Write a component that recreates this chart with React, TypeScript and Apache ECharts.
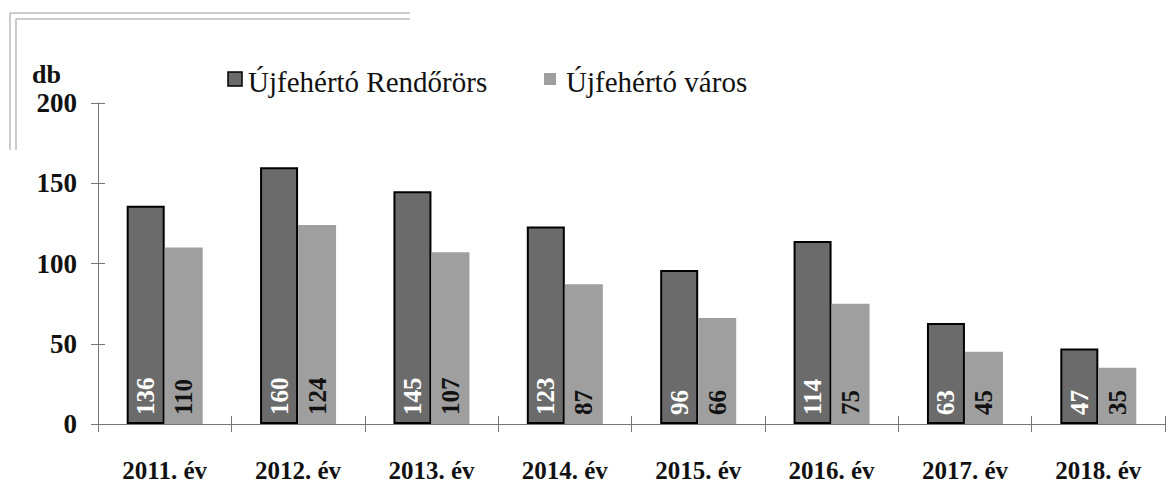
import React, { useEffect, useRef } from "react";
import * as echarts from "echarts";

const categories = ["2011. év", "2012. év", "2013. év", "2014. év", "2015. év", "2016. év", "2017. év", "2018. év"];
const seriesNames = ["Újfehértó Rendőrörs", "Újfehértó város"];
const rendororsValues = [136, 160, 145, 123, 96, 114, 63, 47];
const varosValues = [110, 124, 107, 87, 66, 75, 45, 35];
const yTicks = { min: 0, max: 200, interval: 50 };

const SERIF = "Liberation Serif";
const SERIF_REGULAR = "Tinos, 'Times New Roman', Times, 'DejaVu Serif', serif";
const DARK = "#6b6b6b";
const LIGHT = "#9f9f9f";

export default function App() {
  const ref = useRef<HTMLDivElement>(null);
  useEffect(() => {
    if (!ref.current) return;
    const chart = echarts.init(ref.current, undefined, { renderer: "svg" });
    const axisColor = "#777";
    const xBase = {
      type: "category" as const,
      data: categories,
      boundaryGap: true,
    };
    const yBase = { type: "value" as const, min: yTicks.min, max: yTicks.max, interval: yTicks.interval };
    const barLabel = {
      show: true,
      position: "insideBottom",
      rotate: 90,
      align: "left",
      verticalAlign: "middle",
      distance: 9,
      fontFamily: SERIF,
      fontWeight: "bold",
      fontSize: 25,
    };
    const legendText = (text: string, x: number) => ({
      type: "text",
      x,
      y: 82,
      style: {
        text,
        fontFamily: SERIF_REGULAR,
        fontSize: 29,
        fill: "#111",
        verticalAlign: "middle",
      },
    });
    chart.setOption({
      animation: false,
      backgroundColor: "#fff",
      textStyle: { fontFamily: SERIF },
      grid: { left: 98, right: 6, top: 103, bottom: 48, containLabel: false },
      xAxis: [
        {
          ...xBase,
          axisLine: { lineStyle: { color: axisColor, width: 1 } },
          axisTick: { show: true, length: 8, lineStyle: { color: axisColor } },
          axisLabel: {
            margin: 34,
            fontFamily: SERIF,
            fontWeight: "bold",
            fontSize: 25,
            color: "#111",
          },
        },
        {
          ...xBase,
          position: "bottom",
          axisLine: { show: false },
          axisTick: { show: true, inside: true, length: 8, lineStyle: { color: axisColor } },
          axisLabel: { show: false },
        },
      ],
      yAxis: [
        {
          ...yBase,
          axisLine: { show: true, lineStyle: { color: axisColor, width: 1 } },
          axisTick: { show: true, length: 7, lineStyle: { color: axisColor } },
          splitLine: { show: false },
          axisLabel: {
            margin: 21,
            fontFamily: SERIF,
            fontWeight: "bold",
            fontSize: 27,
            color: "#111",
          },
        },
        {
          ...yBase,
          position: "left",
          axisLine: { show: false },
          axisTick: { show: true, inside: true, length: 7, lineStyle: { color: axisColor } },
          splitLine: { show: false },
          axisLabel: { show: false },
        },
      ],
      graphic: [
        { type: "line", shape: { x1: 10, y1: 13, x2: 410, y2: 13 }, style: { stroke: "#999", lineWidth: 1 } },
        { type: "line", shape: { x1: 16, y1: 19, x2: 410, y2: 19 }, style: { stroke: "#999", lineWidth: 1 } },
        { type: "line", shape: { x1: 10, y1: 13, x2: 10, y2: 150 }, style: { stroke: "#999", lineWidth: 1 } },
        { type: "line", shape: { x1: 16, y1: 19, x2: 16, y2: 150 }, style: { stroke: "#999", lineWidth: 1 } },
        {
          type: "text",
          x: 32,
          y: 74,
          style: {
            text: "db",
            fontFamily: SERIF,
            fontWeight: "bold",
            fontSize: 26,
            fill: "#111",
            verticalAlign: "middle",
          },
        },
        {
          type: "rect",
          shape: { x: 228, y: 72, width: 14, height: 14 },
          style: { fill: DARK, stroke: "#000", lineWidth: 1.5 },
        },
        legendText(seriesNames[0], 248),
        {
          type: "rect",
          shape: { x: 544, y: 73, width: 12, height: 12 },
          style: { fill: LIGHT },
        },
        legendText(seriesNames[1], 566),
      ],
      series: [
        {
          name: seriesNames[0],
          type: "bar",
          data: rendororsValues,
          barWidth: 38,
          barGap: "0%",
          itemStyle: { color: DARK, borderColor: "#000", borderWidth: 2 },
          label: { ...barLabel, color: "#fff" },
        },
        {
          name: seriesNames[1],
          type: "bar",
          data: varosValues,
          barWidth: 38,
          itemStyle: { color: LIGHT },
          label: { ...barLabel, color: "#111" },
        },
      ],
    });
    return () => chart.dispose();
  }, []);
  return <div ref={ref} style={{ width: 1171, height: 483, position: "fixed", left: 0, top: 0 }} />;
}
